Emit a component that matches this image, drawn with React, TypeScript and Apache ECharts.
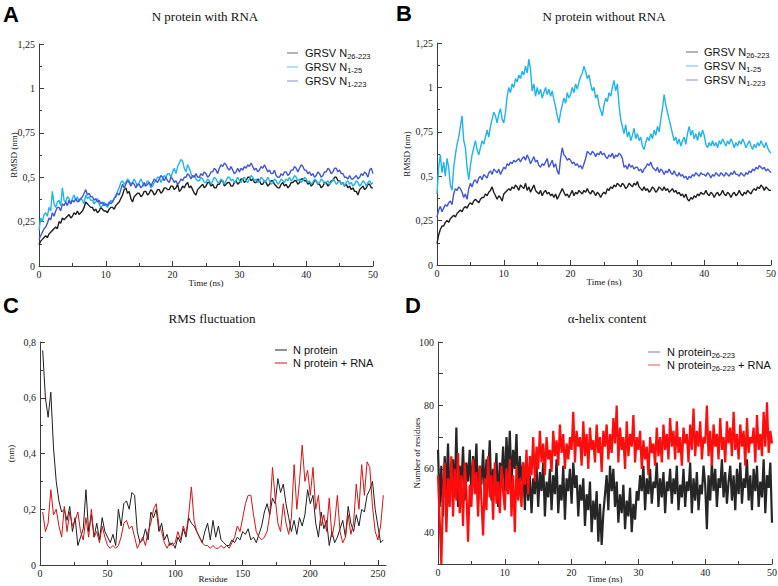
import React, { useEffect, useRef } from "react";
import * as echarts from "echarts";

// ---------------- data ----------------
const TIME_MAX = 50; // ns, samples are evenly spaced over 0..50
const RES_START = 2;
const RES_STEP = 2;

// Panel A: N protein with RNA (RMSD, nm)
const A_N26_223 = [
  0.12,0.14,0.15,0.16,0.17,0.16,0.18,0.19,0.20,0.21,0.22,0.21,0.25,0.24,0.27,0.26,0.27,0.28,0.29,0.27,
  0.28,0.30,0.29,0.31,0.29,0.30,0.31,0.33,0.36,0.35,0.34,0.33,0.33,0.31,0.32,0.30,0.31,0.33,0.32,0.31,
  0.31,0.30,0.32,0.33,0.33,0.32,0.34,0.35,0.36,0.38,0.40,0.43,0.44,0.41,0.42,0.38,0.36,0.39,0.40,0.41,
  0.41,0.39,0.40,0.42,0.42,0.40,0.41,0.43,0.42,0.40,0.41,0.43,0.43,0.41,0.42,0.44,0.44,0.43,0.43,0.45,
  0.45,0.43,0.44,0.46,0.42,0.43,0.45,0.44,0.46,0.47,0.44,0.45,0.43,0.41,0.40,0.43,0.44,0.45,0.46,0.44,
  0.45,0.47,0.47,0.45,0.46,0.44,0.44,0.46,0.46,0.48,0.48,0.45,0.46,0.47,0.47,0.45,0.45,0.47,0.48,0.46,
  0.47,0.49,0.49,0.47,0.48,0.50,0.50,0.48,0.49,0.47,0.47,0.49,0.48,0.46,0.46,0.48,0.47,0.45,0.46,0.48,
  0.48,0.46,0.45,0.44,0.44,0.46,0.47,0.45,0.46,0.44,0.45,0.47,0.47,0.48,0.48,0.46,0.47,0.49,0.49,0.48,
  0.48,0.46,0.47,0.45,0.46,0.48,0.48,0.46,0.46,0.44,0.45,0.47,0.47,0.45,0.46,0.48,0.48,0.50,0.50,0.48,
  0.48,0.46,0.47,0.45,0.46,0.44,0.45,0.43,0.44,0.42,0.42,0.40,0.43,0.44,0.45,0.43,0.44,0.46,0.46,0.44,
  0.44,
];
const A_N1_25 = [
  0.20,0.27,0.25,0.29,0.30,0.28,0.33,0.31,0.42,0.35,0.33,0.36,0.37,0.34,0.44,0.37,0.36,0.39,0.38,0.35,
  0.38,0.40,0.37,0.39,0.36,0.38,0.37,0.35,0.40,0.38,0.39,0.37,0.37,0.35,0.36,0.38,0.35,0.33,0.34,0.36,
  0.34,0.33,0.35,0.37,0.36,0.38,0.40,0.42,0.44,0.47,0.48,0.46,0.47,0.49,0.48,0.46,0.47,0.49,0.47,0.45,
  0.47,0.49,0.47,0.45,0.46,0.48,0.47,0.44,0.45,0.47,0.48,0.50,0.50,0.47,0.49,0.51,0.50,0.52,0.52,0.50,
  0.53,0.55,0.52,0.56,0.58,0.60,0.59,0.55,0.53,0.57,0.55,0.52,0.50,0.51,0.49,0.48,0.48,0.50,0.49,0.47,
  0.47,0.49,0.48,0.46,0.48,0.50,0.49,0.47,0.47,0.49,0.48,0.46,0.48,0.50,0.50,0.48,0.49,0.47,0.48,0.50,
  0.48,0.47,0.49,0.50,0.48,0.47,0.49,0.51,0.50,0.48,0.49,0.47,0.48,0.50,0.49,0.47,0.48,0.50,0.48,0.46,
  0.47,0.49,0.48,0.46,0.47,0.49,0.48,0.47,0.49,0.48,0.50,0.48,0.49,0.51,0.50,0.48,0.49,0.47,0.48,0.50,
  0.49,0.47,0.48,0.46,0.47,0.49,0.48,0.46,0.47,0.49,0.48,0.46,0.47,0.48,0.46,0.47,0.49,0.48,0.46,0.47,
  0.48,0.46,0.47,0.45,0.47,0.48,0.46,0.47,0.45,0.46,0.48,0.47,0.45,0.46,0.48,0.47,0.45,0.47,0.48,0.46,
  0.47,
];
const A_N1_223 = [
  0.15,0.17,0.19,0.21,0.22,0.24,0.27,0.26,0.30,0.28,0.31,0.33,0.33,0.31,0.35,0.34,0.36,0.34,0.37,0.35,
  0.37,0.36,0.38,0.36,0.37,0.38,0.39,0.41,0.43,0.40,0.41,0.39,0.39,0.37,0.38,0.36,0.37,0.35,0.36,0.34,
  0.35,0.34,0.36,0.35,0.36,0.38,0.39,0.41,0.40,0.43,0.46,0.44,0.46,0.48,0.47,0.45,0.47,0.46,0.44,0.46,
  0.46,0.44,0.45,0.47,0.45,0.46,0.47,0.45,0.47,0.49,0.48,0.47,0.49,0.51,0.50,0.48,0.50,0.48,0.47,0.50,
  0.49,0.47,0.48,0.46,0.47,0.49,0.48,0.50,0.50,0.52,0.51,0.49,0.51,0.50,0.52,0.50,0.50,0.52,0.51,0.53,
  0.52,0.50,0.51,0.53,0.53,0.55,0.54,0.52,0.55,0.57,0.56,0.58,0.57,0.55,0.54,0.56,0.54,0.52,0.53,0.55,
  0.53,0.55,0.54,0.56,0.55,0.57,0.56,0.58,0.56,0.54,0.55,0.53,0.54,0.56,0.55,0.57,0.55,0.53,0.54,0.52,
  0.52,0.54,0.51,0.50,0.50,0.52,0.51,0.53,0.53,0.51,0.52,0.54,0.54,0.56,0.55,0.53,0.55,0.57,0.56,0.54,
  0.54,0.52,0.53,0.51,0.52,0.50,0.51,0.53,0.52,0.50,0.51,0.53,0.53,0.55,0.54,0.52,0.53,0.55,0.55,0.53,
  0.54,0.52,0.52,0.50,0.50,0.49,0.51,0.49,0.49,0.50,0.51,0.49,0.50,0.52,0.51,0.53,0.52,0.50,0.54,0.55,
  0.52,
];

// Panel B: N protein without RNA (RMSD, nm)
const B_N26_223 = [
  0.12,0.17,0.20,0.22,0.22,0.24,0.25,0.24,0.26,0.27,0.28,0.27,0.29,0.30,0.31,0.30,0.32,0.33,0.32,0.34,
  0.35,0.34,0.36,0.37,0.36,0.35,0.37,0.38,0.38,0.40,0.39,0.41,0.42,0.44,0.41,0.39,0.37,0.39,0.38,0.36,
  0.40,0.41,0.42,0.43,0.42,0.44,0.43,0.45,0.44,0.42,0.45,0.44,0.43,0.46,0.42,0.44,0.41,0.43,0.45,0.42,
  0.41,0.40,0.42,0.39,0.41,0.42,0.40,0.41,0.39,0.40,0.38,0.40,0.37,0.39,0.41,0.43,0.41,0.39,0.40,0.38,
  0.40,0.42,0.39,0.41,0.40,0.42,0.41,0.40,0.42,0.41,0.43,0.41,0.40,0.42,0.41,0.39,0.41,0.40,0.38,0.40,
  0.41,0.40,0.43,0.42,0.44,0.43,0.45,0.44,0.46,0.45,0.44,0.46,0.45,0.43,0.44,0.46,0.45,0.44,0.46,0.45,
  0.47,0.44,0.43,0.42,0.44,0.42,0.43,0.41,0.42,0.44,0.43,0.41,0.42,0.44,0.43,0.42,0.44,0.42,0.43,0.41,
  0.42,0.43,0.41,0.42,0.40,0.41,0.39,0.40,0.38,0.40,0.37,0.36,0.38,0.37,0.39,0.38,0.40,0.39,0.41,0.40,
  0.40,0.42,0.40,0.39,0.41,0.40,0.38,0.40,0.41,0.39,0.40,0.42,0.40,0.39,0.41,0.40,0.38,0.40,0.41,0.39,
  0.40,0.42,0.40,0.39,0.41,0.40,0.42,0.41,0.40,0.42,0.43,0.42,0.44,0.43,0.45,0.44,0.42,0.44,0.43,0.42,
  0.42,
];
const B_N1_25 = [
  0.40,0.55,0.62,0.52,0.58,0.50,0.60,0.55,0.45,0.42,0.55,0.62,0.68,0.72,0.78,0.84,0.70,0.66,0.55,0.48,
  0.56,0.62,0.66,0.70,0.65,0.62,0.66,0.70,0.68,0.72,0.76,0.72,0.78,0.82,0.86,0.84,0.80,0.85,0.88,0.82,
  0.80,0.86,0.95,1.00,0.97,1.02,1.00,1.05,1.03,1.07,1.05,1.09,1.07,1.12,1.08,1.16,1.10,0.98,1.02,0.95,
  1.00,0.96,0.99,0.94,0.97,1.00,0.96,0.99,0.95,0.98,0.93,0.89,0.84,0.80,0.86,0.90,0.94,0.91,0.97,0.94,
  0.96,1.00,0.97,1.02,0.99,1.03,1.06,1.08,1.12,1.09,1.05,1.07,1.02,0.98,1.00,0.94,0.96,0.90,0.87,0.84,
  0.90,0.94,0.92,0.97,0.95,1.00,1.04,0.98,1.02,0.90,0.82,0.78,0.74,0.79,0.72,0.75,0.70,0.73,0.77,0.71,
  0.74,0.70,0.72,0.67,0.65,0.69,0.72,0.70,0.74,0.71,0.76,0.73,0.78,0.75,0.82,0.88,0.96,0.90,0.86,0.82,
  0.78,0.74,0.70,0.72,0.68,0.71,0.67,0.70,0.72,0.68,0.74,0.78,0.73,0.76,0.71,0.74,0.70,0.75,0.72,0.76,
  0.73,0.68,0.66,0.69,0.67,0.70,0.67,0.69,0.66,0.70,0.68,0.71,0.69,0.67,0.70,0.68,0.71,0.69,0.66,0.69,
  0.67,0.70,0.68,0.71,0.69,0.66,0.68,0.70,0.67,0.65,0.68,0.66,0.69,0.67,0.70,0.68,0.66,0.69,0.66,0.64,
  0.63,
];
const B_N1_223 = [
  0.27,0.31,0.33,0.30,0.32,0.34,0.33,0.35,0.36,0.34,0.40,0.43,0.42,0.44,0.43,0.41,0.38,0.40,0.37,0.43,
  0.46,0.44,0.47,0.48,0.46,0.49,0.50,0.48,0.51,0.50,0.49,0.52,0.53,0.51,0.54,0.53,0.52,0.54,0.51,0.53,
  0.55,0.54,0.57,0.56,0.58,0.57,0.59,0.58,0.59,0.60,0.58,0.60,0.61,0.59,0.62,0.60,0.57,0.59,0.61,0.58,
  0.59,0.56,0.55,0.57,0.56,0.58,0.60,0.55,0.57,0.59,0.55,0.57,0.53,0.51,0.60,0.66,0.62,0.61,0.59,0.60,
  0.59,0.57,0.58,0.56,0.57,0.55,0.56,0.54,0.57,0.60,0.64,0.63,0.62,0.64,0.63,0.61,0.63,0.62,0.64,0.62,
  0.63,0.61,0.60,0.62,0.61,0.63,0.60,0.62,0.61,0.63,0.62,0.60,0.55,0.56,0.54,0.57,0.55,0.56,0.54,0.55,
  0.55,0.53,0.54,0.52,0.54,0.55,0.57,0.56,0.58,0.55,0.54,0.53,0.55,0.52,0.54,0.53,0.51,0.53,0.52,0.54,
  0.52,0.51,0.53,0.51,0.50,0.52,0.50,0.51,0.49,0.50,0.48,0.50,0.49,0.51,0.50,0.52,0.51,0.50,0.52,0.51,
  0.51,0.50,0.52,0.51,0.49,0.51,0.50,0.52,0.51,0.50,0.52,0.51,0.50,0.52,0.51,0.50,0.52,0.51,0.53,0.51,
  0.51,0.50,0.52,0.51,0.50,0.52,0.51,0.53,0.52,0.54,0.53,0.55,0.54,0.56,0.55,0.54,0.55,0.53,0.54,0.53,
  0.52,
];

// Panel C: RMS fluctuation (nm) per residue (residues 2, 4, ..., 254)
const C_N_PROTEIN = [
  0.77,0.60,0.53,0.62,0.42,0.30,0.23,0.19,0.20,0.16,
  0.21,0.12,0.17,0.07,0.10,0.13,0.27,0.12,0.18,0.10,
  0.15,0.09,0.17,0.12,0.10,0.08,0.11,0.07,0.20,0.14,
  0.22,0.23,0.20,0.26,0.25,0.12,0.08,0.09,0.13,0.09,
  0.19,0.17,0.20,0.12,0.15,0.09,0.11,0.07,0.08,0.06,
  0.10,0.08,0.13,0.10,0.17,0.15,0.14,0.12,0.10,0.08,
  0.12,0.15,0.09,0.16,0.10,0.14,0.09,0.08,0.07,0.07,
  0.09,0.08,0.10,0.09,0.12,0.11,0.13,0.09,0.10,0.08,
  0.11,0.14,0.19,0.22,0.18,0.24,0.22,0.31,0.26,0.29,
  0.22,0.17,0.12,0.16,0.11,0.17,0.14,0.18,0.27,0.22,
  0.25,0.15,0.10,0.19,0.13,0.16,0.07,0.12,0.08,0.10,
  0.13,0.16,0.10,0.21,0.15,0.12,0.18,0.14,0.20,0.19,
  0.25,0.27,0.30,0.20,0.14,0.08,0.09,
];
const C_N_PROTEIN_RNA = [
  0.19,0.12,0.15,0.27,0.18,0.20,0.14,0.10,0.21,0.12,
  0.19,0.14,0.16,0.19,0.12,0.09,0.17,0.10,0.20,0.10,
  0.12,0.08,0.14,0.10,0.07,0.06,0.07,0.06,0.07,0.10,
  0.15,0.16,0.13,0.14,0.10,0.06,0.08,0.10,0.07,0.12,
  0.15,0.20,0.22,0.14,0.12,0.08,0.06,0.08,0.07,0.08,
  0.12,0.09,0.14,0.11,0.18,0.28,0.16,0.12,0.10,0.08,
  0.07,0.07,0.06,0.07,0.06,0.06,0.07,0.06,0.07,0.06,
  0.08,0.10,0.14,0.12,0.17,0.22,0.25,0.25,0.18,0.12,
  0.10,0.09,0.10,0.12,0.18,0.35,0.24,0.15,0.12,0.22,
  0.15,0.11,0.17,0.36,0.20,0.30,0.43,0.30,0.34,0.25,
  0.35,0.20,0.25,0.14,0.18,0.12,0.24,0.10,0.15,0.25,
  0.12,0.08,0.10,0.18,0.11,0.15,0.29,0.20,0.36,0.25,
  0.37,0.35,0.21,0.12,0.09,0.14,0.25,
];

// Panel D: alpha-helix content (number of residues)
const D_N_PROTEIN = [
  66,48,61,45,64,53,68,50,58,63,51,73,48,61,55,67,50,62,56,66,
  52,64,57,68,49,61,55,66,51,63,58,69,50,60,54,65,48,62,57,67,
  53,70,58,72,55,66,60,71,52,64,56,62,47,60,50,58,46,57,52,61,
  48,59,53,62,45,56,51,60,47,58,52,63,46,55,50,61,44,57,53,60,
  49,62,54,58,45,55,50,57,42,52,47,56,40,50,44,53,37,49,36,46,
  52,58,47,61,53,60,48,56,43,52,46,55,41,50,45,54,40,49,44,53,
  50,58,53,61,47,57,52,60,49,56,54,62,48,57,51,59,46,56,53,60,
  49,57,52,61,47,55,51,60,48,56,53,62,46,57,50,59,47,55,52,61,
  55,41,58,50,62,53,60,48,57,54,63,51,59,49,56,61,50,58,47,60,
  52,62,49,57,54,63,50,58,47,60,53,61,48,56,51,63,46,58,54,62,
  43,
];
const D_N_PROTEIN_RNA = [
  58,44,30,52,62,40,57,48,64,45,60,50,65,46,58,42,62,53,37,55,
  48,63,52,59,45,61,50,39,57,47,64,51,58,44,62,49,56,46,61,53,
  47,60,52,63,45,58,40,61,50,57,48,62,55,66,52,64,58,70,56,67,
  60,72,62,68,58,70,63,66,59,72,64,69,61,74,65,71,60,68,63,70,
  66,78,62,72,67,70,61,75,64,71,60,73,66,69,62,74,65,70,59,72,
  67,74,63,71,65,76,68,80,62,73,66,70,60,75,64,71,67,77,62,70,
  66,72,60,69,63,67,58,70,65,68,61,73,64,70,62,74,66,71,63,76,
  67,72,63,75,65,70,61,73,68,71,62,74,66,79,64,72,67,75,63,70,
  68,80,64,72,61,74,67,71,63,76,66,70,62,75,68,73,64,78,66,71,
  63,74,67,72,61,76,65,70,68,73,62,77,66,71,64,78,67,81,65,72,
  68,
];

const TITLES = ["N protein with RNA", "N protein without RNA", "RMS fluctuation", "\u03b1-helix content"];
const LETTERS = ["A", "B", "C", "D"];

// ---------------- styling ----------------
const C_BLACK = "#1e1e1e";
const C_CYAN = "#1fb4ec";
const C_BLUE = "#4256d8";
const C_RED = "#ff0d0d";
const C_DGRAY = "#262626";
const AXIS = "#3c3c3c";
const SERIF = "'Liberation Serif', 'DejaVu Serif', serif";
const SANS = "'Liberation Sans', Arial, sans-serif";

const timeSeries = (vals: number[]) => vals.map((v, i) => [(i * TIME_MAX) / (vals.length - 1), v]);
const resSeries = (vals: number[]) => vals.map((v, i) => [RES_START + i * RES_STEP, v]);
const comma = (v: number) => String(+(+v).toFixed(3)).replace(".", ",");

const labelStyle = { color: "#222", fontFamily: SERIF, fontSize: 10 };
const nameStyle = { color: "#111", fontFamily: SERIF, fontSize: 9 };

function xAx(gridIndex: number, min: number, max: number, interval: number, name: string, extra: any = {}) {
  return {
    type: "value", gridIndex, min, max, interval, name,
    nameLocation: "middle", nameGap: 12, nameTextStyle: nameStyle, nameMoveOverlap: false,
    axisLine: { show: true, onZero: false, lineStyle: { color: AXIS, width: 1 } },
    axisTick: { show: true, inside: true, length: 5, lineStyle: { color: AXIS } },
    minorTick: { show: true, splitNumber: 2, length: 3, lineStyle: { color: AXIS } },
    splitLine: { show: false }, minorSplitLine: { show: false },
    axisLabel: { ...labelStyle, margin: 3 },
    ...extra,
  };
}
function yAx(gridIndex: number, min: number, max: number, interval: number, name: string, nameGap: number, extra: any = {}) {
  return {
    type: "value", gridIndex, min, max, interval, name,
    nameLocation: "middle", nameGap, nameTextStyle: nameStyle, nameMoveOverlap: false,
    axisLine: { show: true, onZero: false, lineStyle: { color: AXIS, width: 1 } },
    axisTick: { show: true, inside: true, length: 5, lineStyle: { color: AXIS } },
    minorTick: { show: true, splitNumber: 2, length: 3, lineStyle: { color: AXIS } },
    splitLine: { show: false }, minorSplitLine: { show: false },
    axisLabel: { ...labelStyle, margin: 4 },
    ...extra,
  };
}

function line(name: string, data: any[], color: string, xi: number, yi: number, width = 1) {
  return {
    type: "line", name, data, xAxisIndex: xi, yAxisIndex: yi,
    showSymbol: false, symbol: "none", silent: true,
    lineStyle: { color, width, join: "bevel" }, itemStyle: { color },
    emphasis: { disabled: true },
  };
}

const rich = {
  m: { fontSize: 11, fontFamily: SANS, fill: "#111", lineHeight: 15 },
  s: { fontSize: 7.5, fontFamily: SANS, fill: "#111", lineHeight: 6, verticalAlign: "bottom" },
};
function legendRow(x1: number, x2: number, tx: number, y: number, color: string, main: string, sub?: string, tail?: string) {
  let text = `{m|${main}}`;
  if (sub) text += `{s|${sub}}`;
  if (tail) text += `{m|${tail}}`;
  return [
    { type: "line", silent: true, shape: { x1, y1: y, x2, y2: y }, style: { stroke: color, lineWidth: 1.3 } },
    { type: "text", silent: true, x: tx, y, style: { text, rich, align: "left", verticalAlign: "middle" } },
  ];
}
function title(text: string, x: number, y: number) {
  return { type: "text", silent: true, x, y, style: { text, fontSize: 13, fontFamily: SERIF, fill: "#111", align: "center", verticalAlign: "middle" } };
}
function letter(text: string, x: number, y: number) {
  return { type: "text", silent: true, x, y, style: { text, fontSize: 22, fontWeight: "bold", fontFamily: SANS, fill: "#000", align: "left", verticalAlign: "middle" } };
}

export default function App() {
  const ref = useRef<HTMLDivElement>(null);
  useEffect(() => {
    if (!ref.current) return;
    const chart = echarts.init(ref.current, null, { renderer: "svg", width: 778, height: 586 });
    const option: any = {
      animation: false,
      backgroundColor: "#ffffff",
      grid: [
        { left: 39, top: 44, width: 334, height: 222, containLabel: false, outerBoundsMode: "none" },
        { left: 437, top: 43, width: 334, height: 222, containLabel: false, outerBoundsMode: "none" },
        { left: 40, top: 342, width: 346, height: 223, containLabel: false, outerBoundsMode: "none" },
        { left: 438, top: 342, width: 334, height: 222, containLabel: false, outerBoundsMode: "none" },
      ],
      xAxis: [
        xAx(0, 0, TIME_MAX, 10, "Time (ns)"),
        xAx(1, 0, TIME_MAX, 10, "Time (ns)"),
        xAx(2, 0, 256, 50, "Residue", {
          nameGap: 9,
          axisTick: { show: true, inside: true, length: 5, lineStyle: { color: AXIS }, customValues: [0, 50, 100, 150, 200, 250] },
          axisLabel: { ...labelStyle, margin: 3, customValues: [0, 50, 100, 150, 200, 250] },
          minorTick: { show: false },
        }),
        xAx(3, 0, TIME_MAX, 10, "Time (ns)", { nameGap: 10 }),
        {
          type: "value", gridIndex: 2, min: 0, max: 256, position: "bottom",
          axisLine: { show: false }, axisLabel: { show: false }, splitLine: { show: false },
          axisTick: { show: true, inside: true, length: 3, lineStyle: { color: AXIS }, customValues: [25, 75, 125, 175, 225] },
        },
      ],
      yAxis: [
        yAx(0, 0, 1.25, 0.25, "RMSD (nm)", 21, { axisLabel: { ...labelStyle, margin: 4, formatter: comma } }),
        yAx(1, 0, 1.25, 0.25, "RMSD (nm)", 26, { axisLabel: { ...labelStyle, margin: 4, formatter: comma } }),
        yAx(2, 0, 0.8, 0.2, "(nm)", 25, { axisLabel: { ...labelStyle, margin: 4, formatter: comma } }),
        yAx(3, 30, 100, 10, "Number of residues", 17, {
          axisLabel: { ...labelStyle, margin: 4, formatter: (v: number) => (Math.round(v) % 20 === 0 ? String(Math.round(v)) : "") },
          minorTick: { show: false },
        }),
      ],
      series: [
        line("GRSV N26-223 (A)", timeSeries(A_N26_223), C_BLACK, 0, 0, 1.4),
        line("GRSV N1-25 (A)", timeSeries(A_N1_25), C_CYAN, 0, 0, 1.4),
        line("GRSV N1-223 (A)", timeSeries(A_N1_223), C_BLUE, 0, 0, 1.4),
        line("GRSV N26-223 (B)", timeSeries(B_N26_223), C_BLACK, 1, 1, 1.4),
        line("GRSV N1-25 (B)", timeSeries(B_N1_25), C_CYAN, 1, 1, 1.4),
        line("GRSV N1-223 (B)", timeSeries(B_N1_223), C_BLUE, 1, 1, 1.4),
        line("N protein", resSeries(C_N_PROTEIN), C_BLACK, 2, 2),
        line("N protein + RNA", resSeries(C_N_PROTEIN_RNA), "#d41414", 2, 2),
        line("N protein26-223", timeSeries(D_N_PROTEIN), C_DGRAY, 3, 3, 2.2),
        line("N protein26-223 + RNA", timeSeries(D_N_PROTEIN_RNA), C_RED, 3, 3, 2.2),
      ],
      graphic: [
        letter(LETTERS[0], 3, 14),
        letter(LETTERS[1], 396, 13),
        letter(LETTERS[2], 3, 305),
        letter(LETTERS[3], 405, 305),
        title(TITLES[0], 205, 16),
        title(TITLES[1], 604, 16),
        title(TITLES[2], 212, 318),
        title(TITLES[3], 607, 318),
        ...legendRow(287, 298, 305, 53, "#8c8c8c", "GRSV N", "26-223"),
        ...legendRow(287, 298, 305, 67, "#7fd2f2", "GRSV N", "1-25"),
        ...legendRow(287, 298, 305, 81, "#9ea9e6", "GRSV N", "1-223"),
        ...legendRow(686, 698, 704, 52, "#8c8c8c", "GRSV N", "26-223"),
        ...legendRow(686, 698, 704, 66, "#7fd2f2", "GRSV N", "1-25"),
        ...legendRow(686, 698, 704, 80, "#9ea9e6", "GRSV N", "1-223"),
        ...legendRow(275, 287, 293, 350, "#555555", "N protein"),
        ...legendRow(275, 287, 293, 363, "#d84a4a", "N protein + RNA"),
        ...legendRow(648, 660, 667, 352, "#9a9a9a", "N protein", "26-223"),
        ...legendRow(648, 660, 667, 365, "#f07a7a", "N protein", "26-223", " + RNA"),
      ],
    };
    chart.setOption(option);
    return () => chart.dispose();
  }, []);
  return (
    <div
      ref={ref}
      style={{ position: "fixed", left: 0, top: 0, width: 778, height: 586, background: "#fff" }}
    />
  );
}
